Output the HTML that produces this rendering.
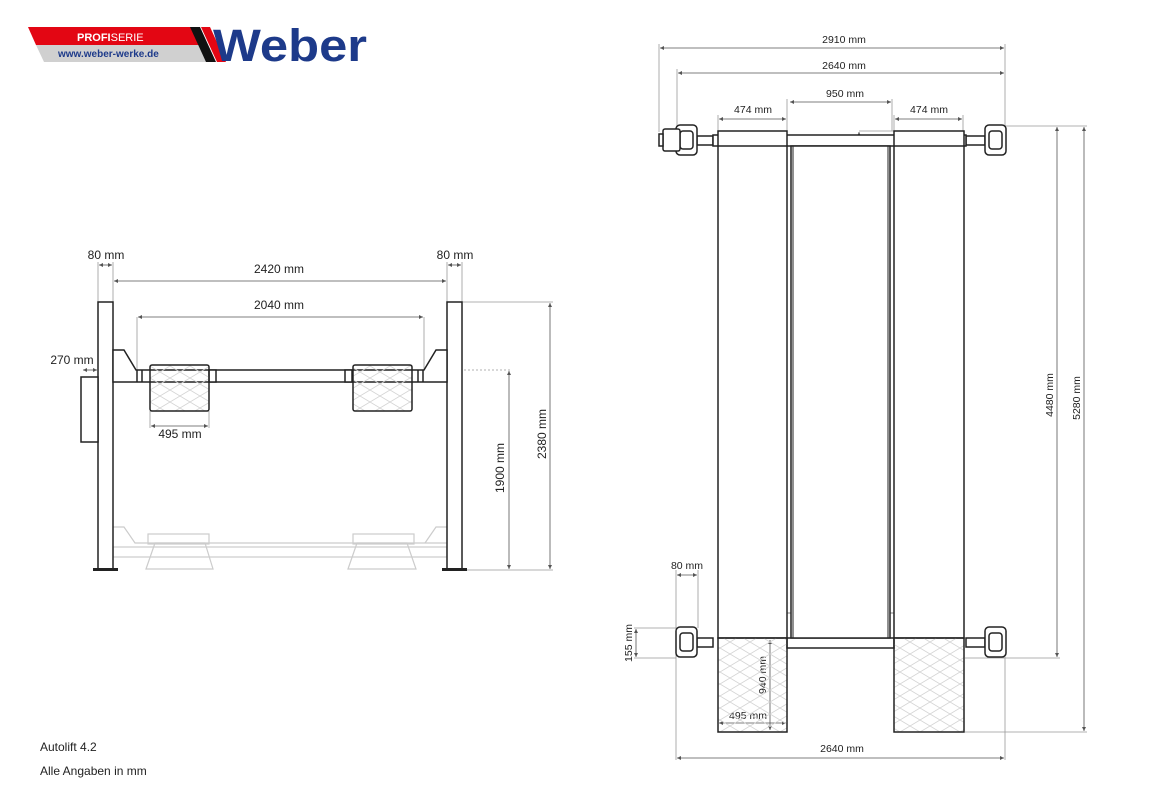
<!DOCTYPE html>
<html><head><meta charset="utf-8"><style>
html,body{margin:0;padding:0;background:#fff;width:1150px;height:800px;overflow:hidden}
svg{display:block}
text{font-family:"Liberation Sans",sans-serif;fill:#222}
</style></head><body>
<svg width="1150" height="800" viewBox="0 0 1150 800" xmlns="http://www.w3.org/2000/svg">
<defs>
<marker id="a" viewBox="0 0 6 6" refX="6" refY="3" markerWidth="5" markerHeight="5" orient="auto-start-reverse"><path d="M0,0L6,3L0,6z" fill="#555"/></marker>
<pattern id="h" width="20" height="12" patternUnits="userSpaceOnUse"><path d="M0,0L20,12M20,0L0,12" stroke="#d4d4d4" stroke-width="0.8"/></pattern>
</defs>
<!-- logo -->
<polygon points="28,27 192,27 200,45 36,45" fill="#e30613"/>
<polygon points="36,45 200,45 208,62 44,62" fill="#d0d0d0"/>
<polygon points="190,27 200,27 216,62 206,62" fill="#111"/>
<polygon points="201,27 210,27 226,62 217,62" fill="#e30613"/>
<text x="77" y="41" font-size="11" font-weight="bold" style="fill:#fff">PROFI<tspan font-weight="normal">SERIE</tspan></text>
<text x="58" y="57" font-size="10" font-weight="bold" style="fill:#1d3a8a">www.weber-werke.de</text>
<text x="213" y="61" font-size="45" font-weight="bold" style="fill:#1d3a8a" textLength="154" lengthAdjust="spacingAndGlyphs">Weber</text>

<g stroke="#999" stroke-width="0.8" fill="none">
<line x1="98" y1="262" x2="98" y2="302"/><line x1="113" y1="262" x2="113" y2="302"/>
<line x1="447" y1="262" x2="447" y2="302"/><line x1="462" y1="262" x2="462" y2="302"/>
<line x1="137" y1="317" x2="137" y2="370"/><line x1="424" y1="317" x2="424" y2="370"/>
<line x1="462" y1="302" x2="553" y2="302"/><line x1="462" y1="570" x2="553" y2="570"/>
<line x1="420" y1="370" x2="512" y2="370" stroke-dasharray="2,2"/>
<line x1="150" y1="411" x2="150" y2="428"/><line x1="209" y1="411" x2="209" y2="428"/>
</g>
<g stroke="#555" stroke-width="0.8" fill="none" marker-start="url(#a)" marker-end="url(#a)">
<line x1="99" y1="265" x2="112" y2="265"/><line x1="448" y1="265" x2="461" y2="265"/>
<line x1="114" y1="281" x2="446" y2="281"/>
<line x1="138" y1="317" x2="423" y2="317"/>
<line x1="83" y1="370" x2="97" y2="370"/>
<line x1="151" y1="426" x2="208" y2="426"/>
<line x1="509" y1="371" x2="509" y2="569"/>
<line x1="550" y1="303" x2="550" y2="569"/>
</g>
<g font-size="12" text-anchor="middle">
<text x="106" y="259">80 mm</text><text x="455" y="259">80 mm</text>
<text x="279" y="273">2420 mm</text><text x="279" y="309">2040 mm</text>
<text x="72" y="364">270 mm</text><text x="180" y="438">495 mm</text>
<text transform="translate(504,468) rotate(-90)">1900 mm</text>
<text transform="translate(546,434) rotate(-90)">2380 mm</text>
</g>
<g stroke="#ccc" stroke-width="1.2" fill="none">
<path d="M113,527 H124 L135,543 H450"/><path d="M447,527 H436 L425,543"/>
<rect x="113" y="547" width="334" height="10"/>
<rect x="148" y="534" width="61" height="10"/><rect x="353" y="534" width="61" height="10"/>
<path d="M146,569 L155,543 H205 L213,569 Z"/><path d="M348,569 L357,543 H407 L416,569 Z"/>
</g>
<g stroke="#222" stroke-width="1.5" fill="#fff">
<rect x="98" y="302" width="15" height="268"/>
<rect x="447" y="302" width="15" height="268"/>
<rect x="81" y="377" width="17" height="65"/>
<path d="M113,350 H124 L136,370 H424 L436,350 H447 V382 H113 Z"/>
<line x1="137" y1="370" x2="137" y2="382"/><line x1="142" y1="370" x2="142" y2="382"/>
<line x1="418" y1="370" x2="418" y2="382"/><line x1="423" y1="370" x2="423" y2="382"/>
<rect x="209" y="370" width="7" height="12"/><rect x="345" y="370" width="7" height="12"/>
<rect x="150" y="365" width="59" height="46" rx="2" fill="url(#h)"/>
<rect x="353" y="365" width="59" height="46" rx="2" fill="url(#h)"/>
</g>
<rect x="93" y="568" width="25" height="3" fill="#222"/><rect x="442" y="568" width="25" height="3" fill="#222"/>

<g stroke="#999" stroke-width="0.8" fill="none">
<line x1="659" y1="44" x2="659" y2="132"/><line x1="1005" y1="44" x2="1005" y2="126"/>
<line x1="677" y1="69" x2="677" y2="126"/>
<line x1="718" y1="115" x2="718" y2="131"/><line x1="787" y1="99" x2="787" y2="131"/>
<line x1="892" y1="99" x2="892" y2="131"/><line x1="894" y1="115" x2="894" y2="131"/><line x1="963" y1="115" x2="963" y2="131"/>
<line x1="1005" y1="126" x2="1087" y2="126"/><line x1="965" y1="658" x2="1060" y2="658"/><line x1="965" y1="732" x2="1087" y2="732"/>
<line x1="859" y1="131" x2="894" y2="131"/>
<line x1="676" y1="570" x2="676" y2="760"/><line x1="698" y1="570" x2="698" y2="628"/><line x1="1005" y1="657" x2="1005" y2="760"/>
<line x1="634" y1="628" x2="676" y2="628"/><line x1="634" y1="658" x2="676" y2="658"/>
<line x1="804" y1="553" x2="828" y2="553"/>
</g>
<g stroke="#555" stroke-width="0.8" fill="none" marker-start="url(#a)" marker-end="url(#a)">
<line x1="660" y1="48" x2="1004" y2="48"/>
<line x1="678" y1="73" x2="1004" y2="73"/>
<line x1="719" y1="119" x2="786" y2="119"/>
<line x1="790" y1="102" x2="891" y2="102"/>
<line x1="895" y1="119" x2="962" y2="119"/>
<line x1="1057" y1="127" x2="1057" y2="657"/>
<line x1="1084" y1="127" x2="1084" y2="731"/>
<line x1="859" y1="132" x2="859" y2="637"/>
<line x1="796" y1="584" x2="887" y2="584"/>
<line x1="721" y1="613" x2="962" y2="613"/>
<line x1="677" y1="575" x2="697" y2="575"/>
<line x1="636" y1="629" x2="636" y2="657"/>
<line x1="770" y1="640" x2="770" y2="730"/>
<line x1="719" y1="723" x2="786" y2="723"/>
<line x1="677" y1="758" x2="1004" y2="758"/>
</g>
<g stroke="#555" stroke-width="0.8" marker-end="url(#a)"><line x1="775" y1="553" x2="786" y2="553"/><line x1="810" y1="553" x2="797" y2="553"/></g>
<g font-size="10.5" text-anchor="middle">
<text x="844" y="43">2910 mm</text><text x="844" y="69">2640 mm</text>
<text x="753" y="113">474 mm</text><text x="845" y="97">950 mm</text><text x="929" y="113">474 mm</text>
<text transform="translate(1053,395) rotate(-90)">4480 mm</text>
<text transform="translate(1080,398) rotate(-90)">5280 mm</text>
<text transform="translate(856,480) rotate(-90)">4210 mm</text>
<text x="813" y="550">42 mm</text><text x="816" y="580">865 mm</text><text x="819" y="609">1900 mm</text>
<text x="687" y="569">80 mm</text>
<text transform="translate(632,643) rotate(-90)">155 mm</text>
<text transform="translate(766,675) rotate(-90)">940 mm</text>
<text x="748" y="719">495 mm</text>
<text x="842" y="752">2640 mm</text>
</g>
<g stroke="#222" stroke-width="1.5" fill="#fff">
<rect x="697" y="136" width="16" height="9"/><rect x="966" y="136" width="19" height="9"/>
<rect x="713" y="135" width="253" height="11"/>
<rect x="697" y="638" width="16" height="9"/><rect x="966" y="638" width="19" height="9"/>
<rect x="787" y="638" width="107" height="10"/>
<rect x="718" y="131" width="69" height="507"/>
<line x1="718" y1="146" x2="787" y2="146"/>
<rect x="894" y="131" width="70" height="507"/>
<line x1="894" y1="146" x2="964" y2="146"/>
<rect x="791" y="146" width="99" height="492"/>
<line x1="793" y1="146" x2="793" y2="638" stroke-width="1"/><line x1="888" y1="146" x2="888" y2="638" stroke-width="1"/>
<rect x="718" y="638" width="69" height="94" fill="url(#h)"/>
<rect x="894" y="638" width="70" height="94" fill="url(#h)"/>
<rect x="676" y="125" width="21" height="30" rx="4"/><rect x="680" y="131" width="13" height="18" rx="3"/>
<rect x="663" y="129" width="17" height="22" rx="2"/><rect x="659" y="134" width="4" height="12"/>
<rect x="985" y="125" width="21" height="30" rx="4"/><rect x="989" y="131" width="13" height="18" rx="3"/>
<rect x="676" y="627" width="21" height="30" rx="4"/><rect x="680" y="633" width="13" height="18" rx="3"/>
<rect x="985" y="627" width="21" height="30" rx="4"/><rect x="989" y="633" width="13" height="18" rx="3"/>
</g>
<text x="40" y="751" font-size="12">Autolift 4.2</text>
<text x="40" y="775" font-size="12">Alle Angaben in mm</text>
</svg>
</body></html>
